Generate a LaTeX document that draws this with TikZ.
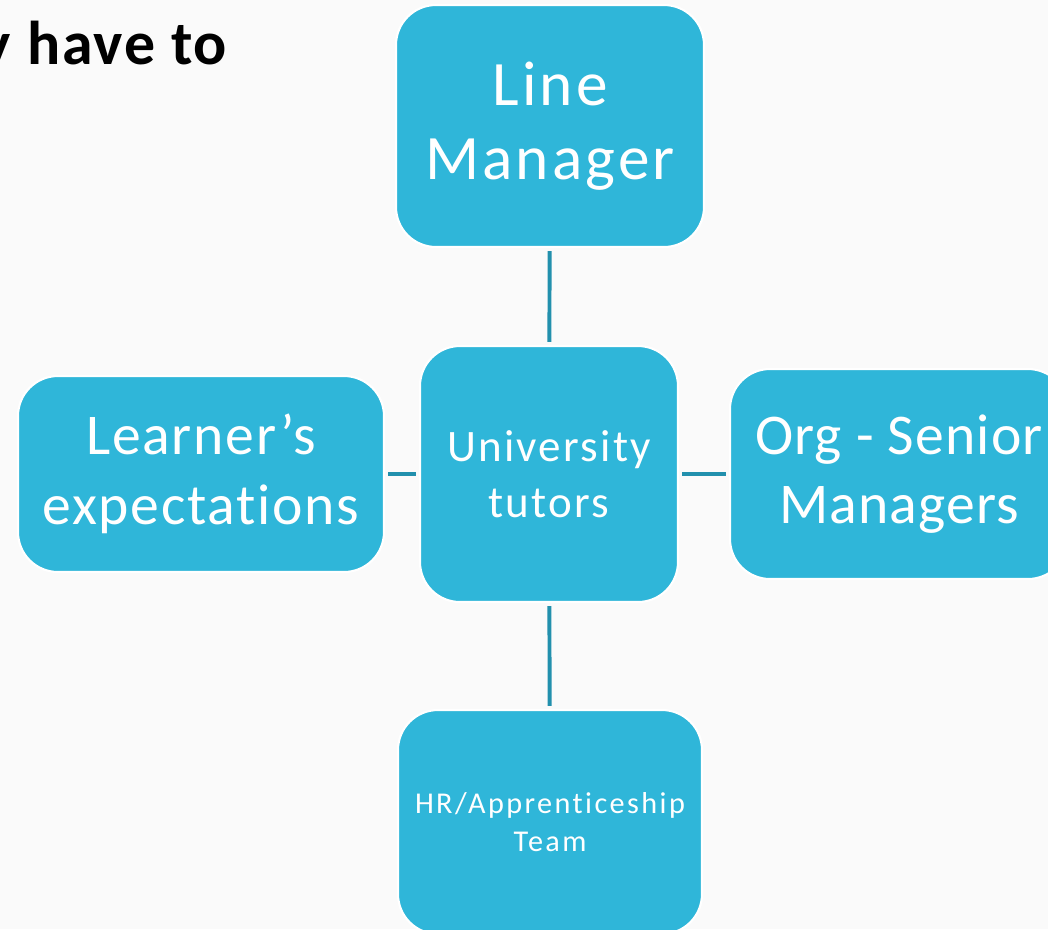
\documentclass[tikz,border=0pt]{standalone}
\usepackage{fontspec}
\setmainfont{Carlito}[Ligatures=NoCommon]
\usepackage{tikz}
\definecolor{boxblue}{HTML}{2FB6D9}
\definecolor{linkblue}{HTML}{2290AD}
\definecolor{pagegray}{HTML}{FAFAFA}
\tikzset{
  party/.style={rectangle,rounded corners=1cm,fill=boxblue,draw=white,line width=1.5pt,
    text=white,align=center,inner sep=0pt,outer sep=0pt},
  link/.style={draw=linkblue,line width=2.8pt,shorten <=3pt,shorten >=3pt}
}
\newcommand\fs[3]{\fontsize{#1}{#2}\selectfont\addfontfeatures{LetterSpace=#3}}

\begin{document}
\begin{tikzpicture}
\fill[pagegray] (0,0) rectangle (26.2,-23.225);
\useasboundingbox (0,0) rectangle (26.2,-23.225);
\node[anchor=base east,font=\bfseries\fs{44}{52}{3}] (title) at (5.8,-1.6) {y have to};
% the five boxes
\node[party,minimum width=7.7cm,minimum height=6.05cm,font=\fs{45}{53}{5}] (line) at (13.75,-3.15) {Line\\Manager};
\node[party,minimum width=6.45cm,minimum height=6.4cm,font=\fs{32}{40}{5}] (uni) at (13.725,-11.85) {University\\tutors};
\node[party,minimum width=9.15cm,minimum height=4.9cm,font=\fs{41}{50}{3}] (learner) at (5.025,-11.85) {Learner’s\\expectations};
\node[party,minimum width=8.45cm,minimum height=5.25cm,font=\fs{41}{49}{2}] (org) at (22.475,-11.85) {Org - Senior\\Managers};
\node[party,minimum width=7.6cm,minimum height=5.6cm,font=\fs{21.5}{27}{8}] (hr) at (13.75,-20.55) {HR/Apprenticeship\\Team};
% connectors
\foreach \a/\b in {line/uni,uni/hr,learner/uni,uni/org}
 \draw[link] (\a) -- (\b);
\end{tikzpicture}
\end{document}
